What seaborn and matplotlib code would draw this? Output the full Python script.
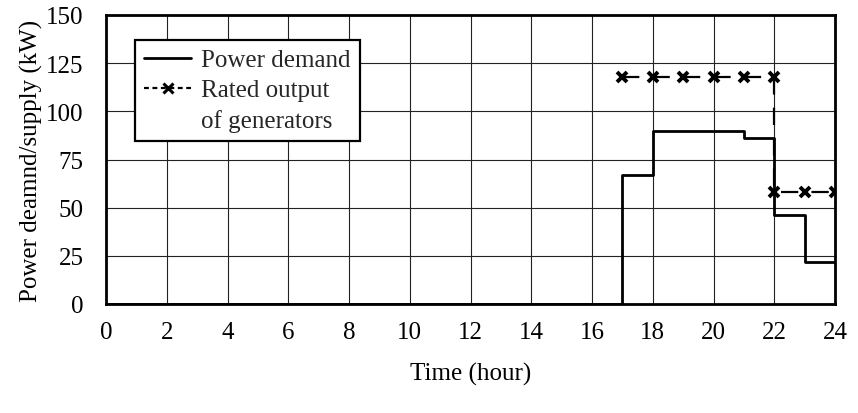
import matplotlib
matplotlib.use("Agg")
import matplotlib.pyplot as plt
from matplotlib.lines import Line2D
import seaborn as sns
import pandas as pd

# Data
demand_hours = [0, 17, 18, 19, 20, 21, 22, 23, 24]
demand_kw = [0, 67, 90, 90, 90, 86, 46, 22, 22]
rated_hours = [17, 18, 19, 20, 21, 22, 22, 23, 24]
rated_kw = [118, 118, 118, 118, 118, 118, 58, 58, 58]
x_ticks = [0, 2, 4, 6, 8, 10, 12, 14, 16, 18, 20, 22, 24]
y_ticks = [0, 25, 50, 75, 100, 125, 150]

sns.set_theme(style="white")
plt.rcParams['font.family'] = ['Liberation Serif', 'DejaVu Serif']

FS = 18

fig = plt.figure(figsize=(8.58, 4.14), dpi=100)
ax = fig.add_axes([106/858, (414-305)/414, (835-106)/858, (305-16)/414])

df_d = pd.DataFrame({"hour": demand_hours, "kw": demand_kw})
df_r = pd.DataFrame({"hour": rated_hours, "kw": rated_kw})

sns.lineplot(data=df_d, x="hour", y="kw", ax=ax, color="black", lw=2.0,
             drawstyle="steps-post", estimator=None, sort=False,
             label="Power demand", zorder=3)
sns.lineplot(data=df_r, x="hour", y="kw", ax=ax, color="black", lw=1.6,
             estimator=None, sort=False, marker="x", markersize=7.5,
             markeredgewidth=2.8, markeredgecolor="black",
             linestyle=(0, (7.8, 5.9)),
             label="Rated output", zorder=4)

ax.set_xlim(0, 24)
ax.set_ylim(0, 150)
ax.set_xticks(x_ticks)
ax.set_yticks(y_ticks)
ax.grid(True, color="#222222", lw=0.8)
ax.set_axisbelow(True)
for s in ax.spines.values():
    s.set_color("black")
    s.set_linewidth(2.0)
    s.set_visible(True)
ax.tick_params(axis="x", length=0, pad=12, labelsize=FS, colors="black")
ax.tick_params(axis="y", length=0, pad=16, labelsize=FS, colors="black")
ax.set_xlabel("Time (hour)", fontsize=FS, labelpad=14, color="black")
ax.set_ylabel("Power deamnd/supply (kW)", fontsize=FS, labelpad=2, color="black")

handles, labels = ax.get_legend_handles_labels()
# legend handles: dashed line with marker in the middle
h_rated = Line2D([], [], color="black", lw=1.6, linestyle=(0, (2.2, 1.6)),
                 marker="x", markersize=7, markeredgewidth=2.2)
handles = [handles[0], h_rated, Line2D([], [], color="none")]
labels = [labels[0], labels[1], "of generators"]

leg = ax.legend(handles, labels, loc="upper left", bbox_to_anchor=(0.04, 0.913),
                fontsize=FS, frameon=True, fancybox=False, edgecolor="black",
                framealpha=1, handlelength=1.9, handletextpad=0.4,
                borderpad=0.35, labelspacing=0.3, borderaxespad=0)
leg.get_frame().set_linewidth(1.6)

fig.savefig("out.png", dpi=100)
